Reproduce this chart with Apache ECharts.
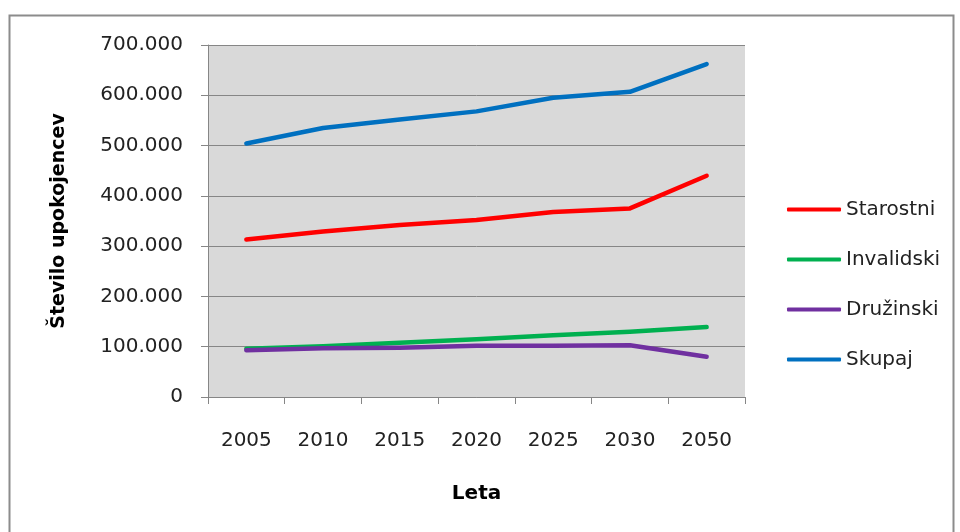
<!DOCTYPE html>
<html>
<head>
<meta charset="utf-8">
<script src="https://cdn.jsdelivr.net/npm/echarts@6/dist/echarts.min.js"></script>
<style>
  html, body { margin: 0; padding: 0; background: #fff; }
  #chart { width: 960px; height: 532px; }
</style>
</head>
<body>
<div id="chart"></div>
<script>
// data
var years = ['2005', '2010', '2015', '2020', '2025', '2030', '2050']
var starostni = [313000, 329000, 342000, 352000, 368000, 375000, 440000]
var invalidski = [96000, 101000, 108000, 115000, 123000, 130000, 139000]
var druzinski = [93000, 97000, 98000, 102000, 102000, 103000, 80000]
var skupaj = [504000, 535000, 552000, 568000, 595000, 607000, 662000]
var seriesNames = ['Starostni', 'Invalidski', 'Družinski', 'Skupaj']

var font = 'DejaVu Sans'
var axisGrey = '#868686'

function fmt(v) {
  return String(v).replace(/\B(?=(\d{3})+(?!\d))/g, '.')
}

function line(name, data, color) {
  return {
    name: name,
    type: 'line',
    data: data,
    showSymbol: false,
    symbol: 'none',
    lineStyle: { color: color, width: 4.5, cap: 'round', join: 'round' },
    itemStyle: { color: color },
    animation: false
  }
}

var chart = echarts.init(document.getElementById('chart'))
chart.setOption({
  backgroundColor: '#fff',
  textStyle: { fontFamily: font },
  graphic: [{
    type: 'rect',
    shape: { x: 9.5, y: 15.5, width: 944, height: 540 },
    style: { fill: 'none', stroke: '#8c8c8c', lineWidth: 2 },
    silent: true
  }],
  grid: {
    left: 208,
    top: 45,
    width: 537,
    height: 352,
    show: true,
    backgroundColor: '#d9d9d9',
    borderWidth: 0
  },
  legend: {
    orient: 'vertical',
    left: 782,
    top: 194,
    itemWidth: 54,
    itemHeight: 4,
    itemGap: 29,
    icon: 'roundRect',
    data: seriesNames,
    textStyle: { fontFamily: font, fontSize: 20, color: '#222', lineHeight: 21 }
  },
  xAxis: {
    type: 'category',
    data: years,
    boundaryGap: true,
    name: 'Leta',
    nameLocation: 'middle',
    nameGap: 87,
    nameTextStyle: { fontFamily: font, fontSize: 20, fontWeight: 'bold', color: '#000' },
    axisLine: { show: true, lineStyle: { color: axisGrey, width: 1 } },
    axisTick: { show: true, length: 7, alignWithLabel: false, lineStyle: { color: axisGrey } },
    axisLabel: { margin: 34, fontFamily: font, fontSize: 20, color: '#222' },
    splitLine: { show: false }
  },
  yAxis: {
    type: 'value',
    min: 0,
    max: 700000,
    interval: 100000,
    name: 'Število upokojencev',
    nameLocation: 'middle',
    nameGap: 139,
    nameRotate: 90,
    nameTextStyle: { fontFamily: font, fontSize: 19, fontWeight: 'bold', color: '#000' },
    axisLine: { show: true, lineStyle: { color: axisGrey, width: 1 } },
    axisTick: { show: true, length: 7, lineStyle: { color: axisGrey } },
    axisLabel: { margin: 25, fontFamily: font, fontSize: 20, color: '#222', formatter: fmt },
    splitLine: { show: true, lineStyle: { color: axisGrey, width: 1 } }
  },
  series: [
    line('Starostni', starostni, '#ff0000'),
    line('Invalidski', invalidski, '#00b050'),
    line('Družinski', druzinski, '#7030a0'),
    line('Skupaj', skupaj, '#0070c0')
  ]
})
</script>
</body>
</html>
